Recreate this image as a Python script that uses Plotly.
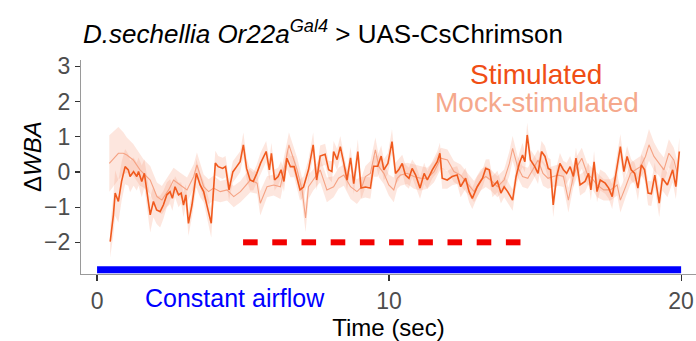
import plotly.graph_objects as go

# ---------------- data ----------------
stim_t = [
    0.45, 0.56, 0.62, 0.73, 0.84, 0.96, 1.07, 1.13, 1.25, 1.36,
    1.42, 1.53, 1.62, 1.70, 1.82, 1.93, 2.04, 2.16, 2.27, 2.39,
    2.50, 2.58, 2.67, 2.79, 2.88, 2.96, 3.04, 3.13, 3.25, 3.40,
    3.53, 3.65, 3.77, 3.91, 4.05, 4.15, 4.30, 4.40, 4.52, 4.65,
    4.78, 4.90, 5.01, 5.12, 5.24, 5.35, 5.47, 5.60, 5.79, 5.90,
    5.97, 6.08, 6.20, 6.30, 6.40, 6.50, 6.62, 6.75, 6.95, 7.07,
    7.24, 7.40, 7.52, 7.64, 7.81, 7.93, 8.04, 8.10, 8.22, 8.33,
    8.45, 8.56, 8.68, 8.79, 8.93, 9.04, 9.19, 9.36, 9.47, 9.61,
    9.73, 9.82, 9.96, 10.10, 10.22, 10.33, 10.45, 10.56, 10.68, 10.79,
    10.91, 11.06, 11.20, 11.31, 11.48, 11.65, 11.74, 11.82, 11.99, 12.16,
    12.33, 12.45, 12.62, 12.74, 12.85, 13.02, 13.20, 13.31, 13.43, 13.54,
    13.71, 13.83, 13.94, 14.06, 14.23, 14.35, 14.46, 14.57, 14.65, 14.73,
    14.84, 14.99, 15.10, 15.22, 15.34, 15.45, 15.53, 15.62, 15.74, 15.85,
    15.97, 16.08, 16.20, 16.31, 16.40, 16.54, 16.71, 16.83, 16.91, 17.02,
    17.12, 17.23, 17.40, 17.52, 17.64, 17.75, 17.92, 18.04, 18.15, 18.29,
    18.41, 18.52, 18.64, 18.75, 18.87, 18.98, 19.10, 19.25, 19.36, 19.53,
    19.71, 19.82, 19.94,
]
stim_mean = [
    -1.98, -1.22, -0.60, -0.84, -0.27, 0.15, 0.06, -0.13, 0.01, -0.13,
    0.01, -0.27, -0.04, -0.56, -1.22, -0.84, -1.08, -1.13, -0.94, -0.65,
    -0.56, -0.75, -0.42, -0.65, -0.60, -0.94, -0.65, -1.46, -0.94, -0.04,
    -0.37, -0.56, -0.94, -1.46, 0.25, 0.15, 0.10, 0.15, -0.51, 0.00,
    0.15, 0.29, 0.77, 0.10, -0.23, -0.27, -0.04, 0.25, 0.58, 0.06,
    0.53, -0.23, -0.13, 0.06, -0.27, 0.39, 0.15, 0.15, -0.51, -0.43,
    0.06, 0.77, -0.23, 0.45, 0.50, 0.06, 0.01, 0.58, 0.35, 0.72,
    0.25, -0.23, 0.40, -0.33, 0.58, -0.46, -0.43, -0.46, 0.16, 0.16,
    0.45, 0.06, 0.24, 0.86, -0.04, 0.06, 0.24, -0.09, -0.18, 0.10,
    -0.09, -0.46, -0.04, -0.23, 0.06, 0.29, 0.53, -0.18, -0.23, -0.13,
    -0.09, -0.42, -0.18, -0.56, -0.75, -0.42, -0.18, 0.10, 0.06, -0.42,
    -0.27, -0.60, -0.42, -0.56, -0.80, -0.13, 0.24, 0.48, 0.29, 1.05,
    0.34, 0.15, -0.04, 0.58, 0.44, 0.10, 0.06, -0.94, -0.13, 0.24,
    0.06, -0.04, 0.15, -0.13, 0.39, -0.37, -0.27, -0.04, -0.51, 0.29,
    -0.56, -0.23, -0.32, -0.46, -0.70, -0.13, 0.72, 0.01, 0.44, 0.06,
    -0.04, -0.46, 0.20, 0.06, -0.60, -0.62, -0.09, -0.89, -0.18, -0.37,
    0.06, -0.42, 0.58,
]
stim_sem = [
    0.45, 0.55, 0.65, 0.60, 0.55, 0.50, 0.45, 0.45, 0.40, 0.40,
    0.40, 0.45, 0.40, 0.45, 0.50, 0.45, 0.40, 0.45, 0.40, 0.35,
    0.35, 0.35, 0.30, 0.35, 0.30, 0.35, 0.30, 0.35, 0.35, 0.40,
    0.35, 0.30, 0.35, 0.40, 0.35, 0.30, 0.30, 0.30, 0.30, 0.30,
    0.30, 0.30, 0.35, 0.30, 0.30, 0.25, 0.25, 0.30, 0.30, 0.30,
    0.30, 0.30, 0.25, 0.25, 0.30, 0.30, 0.30, 0.30, 0.30, 0.30,
    0.30, 0.35, 0.30, 0.30, 0.30, 0.25, 0.30, 0.30, 0.30, 0.30,
    0.25, 0.30, 0.30, 0.30, 0.35, 0.30, 0.30, 0.30, 0.30, 0.30,
    0.30, 0.30, 0.30, 0.35, 0.30, 0.30, 0.25, 0.30, 0.30, 0.25,
    0.30, 0.30, 0.30, 0.25, 0.25, 0.30, 0.30, 0.30, 0.25, 0.25,
    0.25, 0.30, 0.30, 0.30, 0.30, 0.30, 0.25, 0.25, 0.30, 0.30,
    0.30, 0.30, 0.30, 0.30, 0.30, 0.30, 0.30, 0.35, 0.30, 0.35,
    0.30, 0.30, 0.30, 0.30, 0.30, 0.30, 0.30, 0.35, 0.30, 0.30,
    0.25, 0.30, 0.30, 0.30, 0.30, 0.30, 0.30, 0.30, 0.30, 0.30,
    0.30, 0.30, 0.30, 0.30, 0.35, 0.30, 0.35, 0.30, 0.30, 0.30,
    0.30, 0.35, 0.30, 0.30, 0.35, 0.35, 0.35, 0.40, 0.35, 0.35,
    0.35, 0.35, 0.40,
]

mock_t = [
    0.42, 0.73, 0.90, 1.02, 1.24, 1.47, 1.59, 1.82, 2.05, 2.22,
    2.45, 2.62, 2.85, 3.08, 3.31, 3.42, 3.65, 3.82, 3.99, 4.22,
    4.45, 4.68, 4.91, 5.25, 5.48, 5.59, 5.82, 6.05, 6.28, 6.45,
    6.57, 6.85, 7.02, 7.14, 7.24, 7.40, 7.64, 7.87, 8.10, 8.27,
    8.45, 8.68, 8.90, 9.07, 9.19, 9.36, 9.53, 9.65, 9.82, 9.99,
    10.16, 10.28, 10.39, 10.62, 10.85, 11.08, 11.31, 11.54, 11.77, 12.00,
    12.22, 12.45, 12.68, 12.91, 13.14, 13.31, 13.48, 13.71, 13.94, 14.12,
    14.23, 14.40, 14.57, 14.75, 14.92, 15.10, 15.27, 15.44, 15.62, 15.80,
    15.97, 16.14, 16.31, 16.43, 16.60, 16.78, 16.95, 17.12, 17.35, 17.58,
    17.81, 17.92, 18.10, 18.27, 18.44, 18.61, 18.78, 18.90, 19.07, 19.24,
    19.41, 19.58, 19.75, 19.87,
]
mock_mean = [
    0.24, 0.53, 0.53, 0.48, 0.34, 0.06, -0.04, -0.23, -0.70, -0.80,
    -0.51, -0.23, -0.37, -0.51, -0.13, 0.20, -0.42, -0.56, -0.46, -0.56,
    -0.51, -0.70, -0.56, -0.23, -0.32, -0.89, -0.42, -0.37, -0.42, 0.24,
    0.77, 0.06, -0.51, -1.31, -0.42, -0.23, 0.06, -0.51, -0.42, -0.18,
    -0.09, -0.42, -0.56, -0.42, -0.13, -0.04, 0.63, 0.15, -0.04, -0.37,
    -0.51, -0.18, -0.09, -0.04, -0.13, -0.18, -0.18, 0.01, 0.39, 0.34,
    0.01, -0.09, -0.32, -0.56, -0.23, -0.13, -0.23, -0.42, -0.23, 0.24,
    0.67, 0.15, -0.13, -0.18, 0.06, 0.34, -0.04, -0.18, -0.13, -0.09,
    -0.13, -0.80, -0.13, 0.15, 0.39, -0.04, -0.18, -0.37, -0.51, -0.51,
    -0.37, -0.80, -0.42, -0.04, 0.06, 0.15, 0.44, 0.77, 0.44, 0.24,
    0.06, 0.53, 0.34, -0.04,
]
mock_sem = [
    0.80, 0.75, 0.60, 0.50, 0.45, 0.45, 0.40, 0.40, 0.40, 0.40,
    0.40, 0.35, 0.35, 0.35, 0.35, 0.35, 0.35, 0.35, 0.35, 0.30,
    0.30, 0.30, 0.30, 0.35, 0.30, 0.35, 0.30, 0.30, 0.35, 0.35,
    0.35, 0.35, 0.35, 0.40, 0.35, 0.30, 0.35, 0.35, 0.30, 0.30,
    0.30, 0.35, 0.35, 0.30, 0.30, 0.35, 0.35, 0.30, 0.30, 0.30,
    0.35, 0.30, 0.30, 0.30, 0.35, 0.35, 0.30, 0.30, 0.30, 0.30,
    0.30, 0.30, 0.30, 0.30, 0.30, 0.30, 0.30, 0.30, 0.30, 0.35,
    0.35, 0.30, 0.30, 0.30, 0.30, 0.30, 0.35, 0.30, 0.30, 0.30,
    0.30, 0.35, 0.30, 0.30, 0.30, 0.30, 0.30, 0.35, 0.30, 0.30,
    0.30, 0.35, 0.30, 0.30, 0.30, 0.30, 0.40, 0.45, 0.40, 0.35,
    0.35, 0.40, 0.35, 0.35,
]

pulse_starts = [5, 6, 7, 8, 9, 10, 11, 12, 13, 14]
pulse_duration = 0.5
airflow_start, airflow_end = 0, 20

x_ticks = [0, 10, 20]
x_tick_labels = ["0", "10", "20"]
y_ticks = [-2, -1, 0, 1, 2, 3]
y_tick_labels = ["\u22122", "\u22121", "0", "1", "2", "3"]

# ---------------- styles ----------------
FONT = "Liberation Sans, Arial, sans-serif"
STIM_COL = "#F05A1E"
MOCK_COL = "#F5A283"
BAND_FILL = "rgba(247,150,115,0.24)"
PULSE_Y = -2.0
AIRFLOW_Y = -2.78

fig = go.Figure()


def band(t, m, s):
    up = [a + b for a, b in zip(m, s)]
    lo = [a - b for a, b in zip(m, s)]
    return list(t) + list(t[::-1]), up + lo[::-1]


bx, by = band(mock_t, mock_mean, mock_sem)
fig.add_trace(go.Scatter(x=bx, y=by, fill="toself", fillcolor=BAND_FILL,
                         line=dict(width=0), hoverinfo="skip", showlegend=False))
bx, by = band(stim_t, stim_mean, stim_sem)
fig.add_trace(go.Scatter(x=bx, y=by, fill="toself", fillcolor=BAND_FILL,
                         line=dict(width=0), hoverinfo="skip", showlegend=False))

fig.add_trace(go.Scatter(x=mock_t, y=mock_mean, mode="lines",
                         line=dict(color=MOCK_COL, width=1.1), showlegend=False))
fig.add_trace(go.Scatter(x=stim_t, y=stim_mean, mode="lines",
                         line=dict(color=STIM_COL, width=1.6), showlegend=False))

# light pulses (red dashes)
px, py = [], []
for s in pulse_starts:
    px += [s, s + pulse_duration, None]
    py += [PULSE_Y, PULSE_Y, None]
fig.add_trace(go.Scatter(x=px, y=py, mode="lines",
                         line=dict(color="#F20000", width=6), showlegend=False))

# airflow bar
fig.add_trace(go.Scatter(x=[airflow_start, airflow_end], y=[AIRFLOW_Y, AIRFLOW_Y],
                         mode="lines", line=dict(color="#0000FF", width=7),
                         showlegend=False))

fig.update_layout(
    width=696, height=341,
    margin=dict(l=81, r=0, t=60, b=67, autoexpand=False),
    paper_bgcolor="white", plot_bgcolor="white",
    font=dict(family=FONT, color="black"),
    xaxis=dict(range=[-0.55, 20.51], tickvals=x_ticks, ticktext=x_tick_labels,
               ticks="outside", ticklen=6,
               tickcolor="#333333", tickwidth=1.2, showline=True, linecolor="#9a9a9a",
               linewidth=1.2, showgrid=False, zeroline=False, automargin=False,
               tickfont=dict(size=23, color="#4d4d4d"),
               title=dict(text="Time (sec)", font=dict(size=24, color="black"), standoff=0)),
    yaxis=dict(range=[-2.9, 3.18], tickvals=y_ticks, ticktext=y_tick_labels,
               ticks="outside", ticklen=5,
               tickcolor="#333333", tickwidth=1.2, showline=True, linecolor="#9a9a9a",
               linewidth=1.2, showgrid=False, zeroline=False, automargin=False,
               tickfont=dict(size=23, color="#4d4d4d")),
    annotations=[
        dict(text="Δ<i>WBA</i>", xref="paper", yref="paper", x=-0.078, y=0.547,
             xanchor="center", yanchor="middle", textangle=-90, showarrow=False,
             font=dict(size=24, color="black")),
        dict(text="<i>D.sechellia Or22a<sup>Gal4</sup></i> &gt; UAS-CsChrimson",
             xref="paper", yref="paper", x=0.0, y=1.13, xanchor="left", yanchor="middle",
             showarrow=False, font=dict(size=26, color="black")),
        dict(text="Stimulated", xref="x", yref="paper", x=15.03, y=0.93,
             xanchor="center", yanchor="middle", showarrow=False,
             font=dict(size=28, color="#F04E14")),
        dict(text="Mock-stimulated", xref="x", yref="paper", x=15.06, y=0.80,
             xanchor="center", yanchor="middle", showarrow=False,
             font=dict(size=28, color="#F5A88C")),
        dict(text="Constant airflow", xref="x", yref="paper", x=4.73, y=-0.11,
             xanchor="center", yanchor="middle", showarrow=False,
             font=dict(size=25, color="#0000FF")),
    ],
)

# remove the browser's default 8px page margin so the figure fills the window
fig.write_html(
    "out.html",
    config={"displayModeBar": False, "staticPlot": True},
    post_script="document.body.style.margin='0';document.body.style.overflow='hidden';",
)
